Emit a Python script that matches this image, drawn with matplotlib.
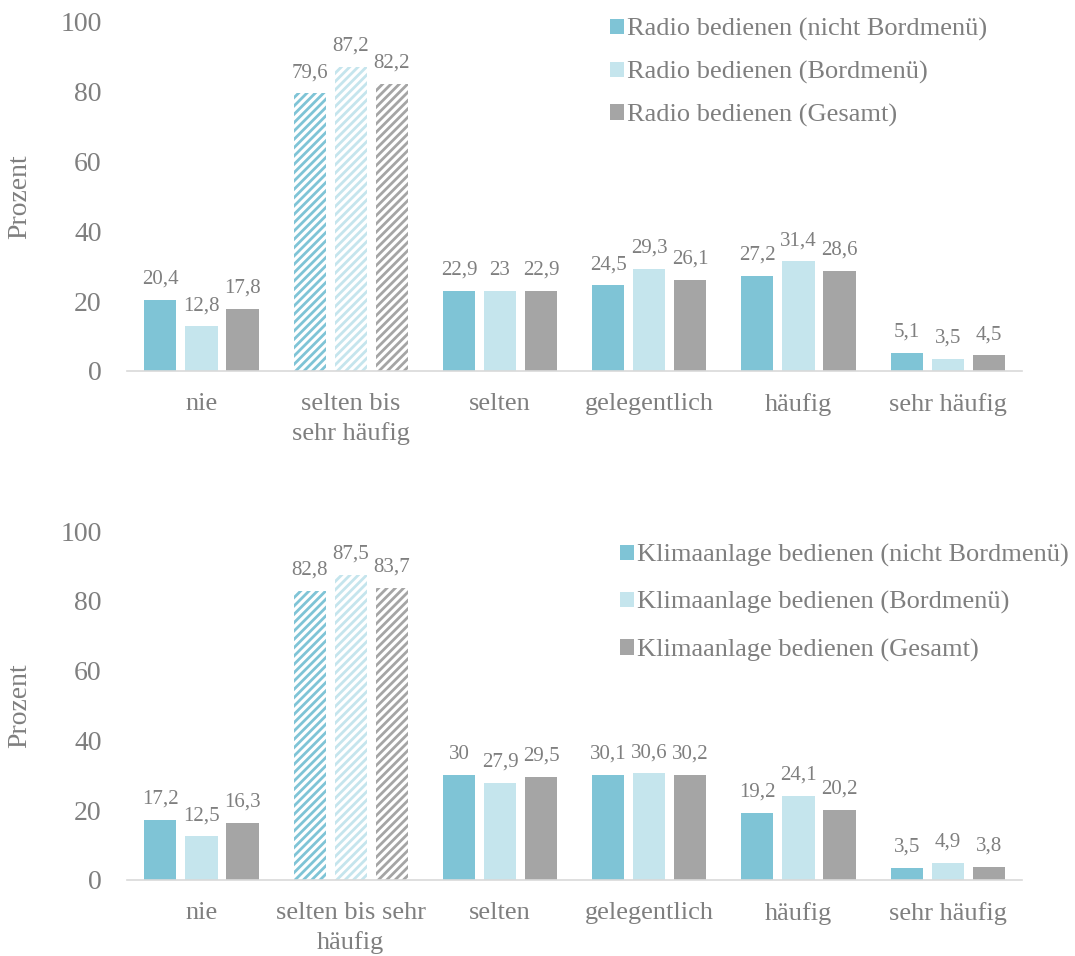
import numpy as np
import matplotlib.pyplot as plt

# Häufigkeit der Bedienung, Angaben in Prozent
categories_top = ['nie', 'selten bis\nsehr häufig', 'selten', 'gelegentlich', 'häufig', 'sehr häufig']
categories_bottom = ['nie', 'selten bis sehr\nhäufig', 'selten', 'gelegentlich', 'häufig', 'sehr häufig']

radio_nicht_bordmenue = [20.4, 79.6, 22.9, 24.5, 27.2, 5.1]
radio_bordmenue = [12.8, 87.2, 23, 29.3, 31.4, 3.5]
radio_gesamt = [17.8, 82.2, 22.9, 26.1, 28.6, 4.5]

klima_nicht_bordmenue = [17.2, 82.8, 30, 30.1, 19.2, 3.5]
klima_bordmenue = [12.5, 87.5, 27.9, 30.6, 24.1, 4.9]
klima_gesamt = [16.3, 83.7, 29.5, 30.2, 20.2, 3.8]

radio_labels = ['Radio bedienen (nicht Bordmenü)', 'Radio bedienen (Bordmenü)',
                'Radio bedienen (Gesamt)']
klima_labels = ['Klimaanlage bedienen (nicht Bordmenü)', 'Klimaanlage bedienen (Bordmenü)',
                'Klimaanlage bedienen (Gesamt)']

colors = ['#7FC4D6', '#C5E5ED', '#A5A5A5']
text_color = '#7F7F7F'

plt.rcParams['font.family'] = ['Liberation Serif', 'DejaVu Serif']
plt.rcParams['hatch.linewidth'] = 2.0


def fmt(v):
    return ('%g' % v).replace('.', ',')


def draw_panel(ax, cats, series, labels, legend_anchor, legend_spacing):
    x = np.arange(len(cats))
    width = 0.215
    step = 0.275
    for i, (vals, col, lab) in enumerate(zip(series, colors, labels)):
        pos = x + (i - 1) * step
        bars = ax.bar(pos, vals, width, color=col, label=lab, linewidth=0)
        # the combined category is drawn hatched
        bars[1].set_facecolor('white')
        bars[1].set_edgecolor(col)
        bars[1].set_hatch('////')
        for b, v in zip(bars, vals):
            ax.annotate(fmt(v), (b.get_x() + b.get_width() / 2, v),
                        xytext=(0, 8), textcoords='offset points',
                        ha='center', va='bottom', fontsize=15, color=text_color)
    ax.set_xlim(-0.5, len(cats) - 0.5)
    ax.set_ylim(0, 100)
    ax.set_yticks(range(0, 101, 20))
    ax.set_xticks(x)
    ax.set_xticklabels(cats, fontsize=19, color=text_color, linespacing=1.4)
    ax.tick_params(axis='y', labelsize=20, labelcolor=text_color, length=0, pad=18)
    ax.tick_params(axis='x', length=0, pad=16)
    for side in ['top', 'right', 'left']:
        ax.spines[side].set_visible(False)
    ax.spines['bottom'].set_color('#D9D9D9')
    ax.spines['bottom'].set_linewidth(1.2)
    ax.set_ylabel('Prozent', fontsize=20, color=text_color)
    ax.yaxis.set_label_coords(-0.106, 0.5)
    leg = ax.legend(loc='upper left', bbox_to_anchor=legend_anchor,
                    bbox_transform=ax.figure.transFigure, frameon=False,
                    fontsize=19, labelcolor=text_color, handlelength=0.53,
                    handleheight=0.53, handletextpad=0.12, labelspacing=legend_spacing,
                    borderpad=0, borderaxespad=0)
    for h, col in zip(leg.legend_handles, colors):
        h.set_hatch(None)
        h.set_facecolor(col)
        h.set_edgecolor(col)


fig = plt.figure(figsize=(10.75, 9.56), dpi=100)
ax1 = fig.add_axes([0.118, 0.612, 0.833, 0.365])
ax2 = fig.add_axes([0.118, 0.0795, 0.833, 0.365])

draw_panel(ax1, categories_top, [radio_nicht_bordmenue, radio_bordmenue, radio_gesamt],
           radio_labels, (0.5674, 0.981), 0.75)
draw_panel(ax2, categories_bottom, [klima_nicht_bordmenue, klima_bordmenue, klima_gesamt],
           klima_labels, (0.577, 0.431), 0.92)

fig.savefig('out.png', dpi=100)
